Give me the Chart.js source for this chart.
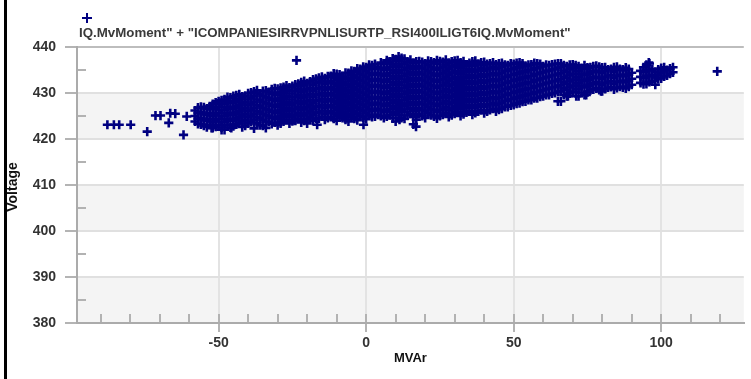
<!DOCTYPE html>
<html>
<head>
<meta charset="utf-8">
<script src="https://cdn.jsdelivr.net/npm/chart.js@4.4.1/dist/chart.umd.min.js"></script>
<style>
    html, body { margin: 0; padding: 0; background: #fff; }
    #wrap { position: relative; width: 751px; height: 379px; }
</style>
</head>
<body>
<div id="wrap"><canvas id="scatterChart" width="751" height="379"></canvas></div>
<script>
/* ================= DATA ================= */
const SERIES_LABEL = 'IQ.MvMoment" + "ICOMPANIESIRRVPNLISURTP_RSI400ILIGT6IQ.MvMoment"';
const X_TITLE = "MVAr";
const Y_TITLE = "Voltage";
const X_TICKS = [-50, 0, 50, 100];
const Y_TICKS = [380, 390, 400, 410, 420, 430, 440];

// dense part of the cloud: one MVAr position per column, voltages read in that column
const mvarColumns = [
    -58, -56, -54, -52, -50, -48, -46, -44, -42, -40, -38, -36, -34, -32, -30,
    -28, -26, -24, -22, -20, -18, -16, -14, -12, -10, -8, -6, -4, -2, 0,
    2, 4, 6, 8, 10, 12, 14, 16, 18, 20, 22, 24, 26, 28, 30,
    32, 34, 36, 38, 40, 42, 44, 46, 48, 50, 52, 54, 56, 58, 60,
    62, 64, 66, 68, 70, 72, 74, 76, 78, 80, 82, 84, 86, 88, 90,
    94, 96, 98, 100, 102, 104
];

const voltageColumns = [
    [423.8, 425.0, 426.2],
    [423.2, 424.5, 425.8, 427.0],
    [422.6, 424.0, 425.3, 426.6],
    [422.4, 423.7, 425.0, 426.4, 427.6],
    [423.1, 424.4, 425.7, 427.0, 428.2],
    [422.0, 423.6, 424.9, 426.2, 427.5, 428.6],
    [422.5, 423.9, 425.2, 426.5, 427.8, 429.0],
    [423.2, 424.5, 425.8, 427.1, 428.4, 429.5],
    [422.6, 424.0, 425.3, 426.6, 427.9, 429.2],
    [423.4, 424.7, 426.0, 427.3, 428.6, 429.9],
    [422.3, 424.1, 425.4, 426.7, 428.0, 429.3, 430.3],
    [423.0, 424.6, 425.9, 427.2, 428.5, 429.8],
    [422.4, 423.8, 425.2, 426.5, 427.8, 429.1, 430.5],
    [423.3, 424.6, 425.9, 427.2, 428.5, 429.8, 430.8],
    [423.0, 424.3, 425.6, 426.9, 428.2, 429.5, 430.9],
    [423.8, 425.1, 426.4, 427.7, 429.0, 430.3, 431.3],
    [423.4, 424.7, 426.0, 427.3, 428.6, 429.9, 431.2],
    [424.0, 425.3, 426.6, 427.9, 429.2, 430.5, 431.8],
    [423.6, 424.9, 426.2, 427.5, 428.8, 430.1, 431.4, 432.3],
    [424.3, 425.6, 426.9, 428.2, 429.5, 430.8, 432.1],
    [424.0, 425.3, 426.6, 427.9, 429.2, 430.5, 431.8, 432.9],
    [424.5, 425.8, 427.1, 428.4, 429.7, 431.0, 432.3, 433.3],
    [424.2, 425.5, 426.8, 428.1, 429.4, 430.7, 432.0, 433.2],
    [424.8, 426.1, 427.4, 428.7, 430.0, 431.3, 432.6, 433.7],
    [424.0, 425.4, 426.7, 428.0, 429.3, 430.6, 431.9, 433.2, 434.1],
    [424.6, 425.9, 427.2, 428.5, 429.8, 431.1, 432.4, 433.6],
    [423.8, 425.2, 426.5, 427.8, 429.1, 430.4, 431.7, 433.0, 434.3],
    [424.4, 425.7, 427.0, 428.3, 429.6, 430.9, 432.2, 433.5, 434.7],
    [425.0, 426.3, 427.6, 428.9, 430.2, 431.5, 432.8, 434.1, 435.2],
    [424.3, 425.6, 426.9, 428.2, 429.5, 430.8, 432.1, 433.4, 434.7, 435.6],
    [424.8, 426.1, 427.4, 428.7, 430.0, 431.3, 432.6, 433.9, 435.2, 436.0],
    [425.3, 426.6, 427.9, 429.2, 430.5, 431.8, 433.1, 434.4, 435.7],
    [424.6, 425.9, 427.2, 428.5, 429.8, 431.1, 432.4, 433.7, 435.0, 436.3],
    [425.2, 426.5, 427.8, 429.1, 430.4, 431.7, 433.0, 434.3, 435.6, 436.8],
    [423.8, 425.5, 426.8, 428.1, 429.4, 430.7, 432.0, 433.3, 434.6, 435.9, 437.3],
    [424.6, 426.0, 427.3, 428.6, 429.9, 431.2, 432.5, 433.8, 435.1, 436.4, 437.6],
    [425.1, 426.4, 427.7, 429.0, 430.3, 431.6, 432.9, 434.2, 435.5, 436.8],
    [423.2, 424.8, 426.1, 427.4, 428.7, 430.0, 431.3, 432.6, 433.9, 435.2, 436.5],
    [425.4, 426.7, 428.0, 429.3, 430.6, 431.9, 433.2, 434.5, 435.8, 436.9],
    [424.6, 426.0, 427.3, 428.6, 429.9, 431.2, 432.5, 433.8, 435.1, 436.4],
    [425.2, 426.5, 427.8, 429.1, 430.4, 431.7, 433.0, 434.3, 435.6, 436.8],
    [424.5, 425.9, 427.2, 428.5, 429.8, 431.1, 432.4, 433.7, 435.0, 436.3, 437.1],
    [425.3, 426.6, 427.9, 429.2, 430.5, 431.8, 433.1, 434.4, 435.7, 436.7],
    [424.8, 426.2, 427.5, 428.8, 430.1, 431.4, 432.7, 434.0, 435.3, 436.5],
    [425.5, 426.8, 428.1, 429.4, 430.7, 432.0, 433.3, 434.6, 435.9, 437.0],
    [425.0, 426.4, 427.7, 429.0, 430.3, 431.6, 432.9, 434.2, 435.5, 436.6],
    [425.8, 427.1, 428.4, 429.7, 431.0, 432.3, 433.6, 434.9, 436.2],
    [425.3, 426.7, 428.0, 429.3, 430.6, 431.9, 433.2, 434.5, 435.8, 436.8],
    [426.0, 427.3, 428.6, 429.9, 431.2, 432.5, 433.8, 435.1, 436.3],
    [425.6, 427.0, 428.3, 429.6, 430.9, 432.2, 433.5, 434.8, 436.0, 436.7],
    [426.3, 427.6, 428.9, 430.2, 431.5, 432.8, 434.1, 435.4, 436.4],
    [426.0, 427.3, 428.6, 429.9, 431.2, 432.5, 433.8, 435.1, 436.2],
    [426.6, 427.9, 429.2, 430.5, 431.8, 433.1, 434.4, 435.7, 436.5],
    [427.0, 428.3, 429.6, 430.9, 432.2, 433.5, 434.8, 436.0],
    [427.4, 428.7, 430.0, 431.3, 432.6, 433.9, 435.2, 436.3],
    [427.8, 429.1, 430.4, 431.7, 433.0, 434.3, 435.6, 436.6],
    [428.2, 429.5, 430.8, 432.1, 433.4, 434.7, 435.9],
    [428.5, 429.8, 431.1, 432.4, 433.7, 435.0, 436.2],
    [428.9, 430.2, 431.5, 432.8, 434.1, 435.4, 436.4],
    [429.3, 430.6, 431.9, 433.2, 434.5, 435.8],
    [429.6, 430.9, 432.2, 433.5, 434.8, 436.0],
    [430.0, 431.3, 432.6, 433.9, 435.2, 436.3],
    [428.2, 430.4, 431.7, 433.0, 434.3, 435.6, 436.4],
    [429.3, 430.7, 432.0, 433.3, 434.6, 435.8],
    [430.2, 431.5, 432.8, 434.1, 435.4, 436.2],
    [429.3, 430.8, 432.1, 433.4, 434.7, 435.8],
    [429.6, 431.2, 432.5, 433.8, 435.1, 436.0],
    [430.6, 431.9, 433.2, 434.5, 435.6],
    [431.0, 432.3, 433.6, 434.9, 435.9],
    [430.4, 431.7, 433.0, 434.3, 435.5],
    [431.2, 432.5, 433.8, 435.1],
    [430.8, 432.0, 433.3, 434.6, 435.6],
    [431.4, 432.7, 434.0, 435.2],
    [431.0, 432.3, 433.6, 434.9, 435.5],
    [431.8, 433.1, 434.4],
    [431.9, 433.2, 434.5, 435.6],
    [432.4, 433.8, 435.0, 436.4],
    [431.8, 433.4, 434.6],
    [433.2, 434.4, 435.4],
    [433.8, 435.0],
    [434.5, 435.6]
];

// second pass through the cloud, between the columns above
const mvarColumns2 = [
    -57, -55, -53, -51, -49, -47, -45, -43, -41, -39, -37, -35, -33, -31, -29,
    -27, -25, -23, -21, -19, -17, -15, -13, -11, -9, -7, -5, -3, -1, 1,
    3, 5, 7, 9, 11, 13, 15, 17, 19, 21, 23, 25, 27, 29, 31,
    33, 35, 37, 39, 41, 43, 45, 47, 49, 51, 53, 55, 57, 59, 61,
    63, 65, 67, 69, 71, 73, 75, 77, 79, 81, 83, 85, 87, 89,
    93, 95, 97, 99, 101, 103
];

const voltageColumns2 = [
    [423.3, 424.4, 425.6, 426.8],
    [422.9, 424.2, 425.5, 426.9],
    [423.1, 424.4, 425.7, 427.1],
    [422.7, 424.0, 425.3, 426.7, 427.9],
    [422.5, 423.8, 425.1, 426.4, 427.7, 428.4],
    [423.0, 424.3, 425.6, 426.9, 428.2, 429.1],
    [422.8, 424.1, 425.4, 426.7, 428.0, 429.3],
    [423.5, 424.8, 426.1, 427.4, 428.7, 429.7],
    [422.9, 424.2, 425.5, 426.8, 428.1, 429.4],
    [423.7, 425.0, 426.3, 427.6, 428.9, 430.1],
    [423.4, 424.7, 426.0, 427.3, 428.6, 429.9, 430.6],
    [422.9, 424.2, 425.5, 426.8, 428.1, 429.4, 430.4],
    [423.7, 425.0, 426.3, 427.6, 428.9, 430.2],
    [423.6, 424.9, 426.2, 427.5, 428.8, 430.1, 431.0],
    [423.4, 424.7, 426.0, 427.3, 428.6, 429.9, 431.1],
    [424.2, 425.5, 426.8, 428.1, 429.4, 430.7, 431.6],
    [423.9, 425.2, 426.5, 427.8, 429.1, 430.4, 431.5],
    [424.4, 425.7, 427.0, 428.3, 429.6, 430.9, 432.0],
    [424.0, 425.3, 426.6, 427.9, 429.2, 430.5, 431.8, 432.6],
    [424.7, 426.0, 427.3, 428.6, 429.9, 431.2, 432.5],
    [424.4, 425.7, 427.0, 428.3, 429.6, 430.9, 432.2, 433.1],
    [424.9, 426.2, 427.5, 428.8, 430.1, 431.4, 432.7, 433.5],
    [424.6, 425.9, 427.2, 428.5, 429.8, 431.1, 432.4, 433.6],
    [424.4, 425.7, 427.0, 428.3, 429.6, 430.9, 432.2, 433.5, 434.2],
    [425.0, 426.3, 427.6, 428.9, 430.2, 431.5, 432.8, 434.0],
    [424.2, 425.5, 426.8, 428.1, 429.4, 430.7, 432.0, 433.3, 434.4],
    [424.8, 426.1, 427.4, 428.7, 430.0, 431.3, 432.6, 433.9, 434.8],
    [424.1, 425.4, 426.7, 428.0, 429.3, 430.6, 431.9, 433.2, 434.5, 435.3],
    [424.7, 426.0, 427.3, 428.6, 429.9, 431.2, 432.5, 433.8, 435.1, 435.7],
    [425.2, 426.5, 427.8, 429.1, 430.4, 431.7, 433.0, 434.3, 435.6, 436.1],
    [424.9, 426.2, 427.5, 428.8, 430.1, 431.4, 432.7, 434.0, 435.3, 436.3],
    [425.0, 426.3, 427.6, 428.9, 430.2, 431.5, 432.8, 434.1, 435.4, 436.6],
    [424.9, 426.2, 427.5, 428.8, 430.1, 431.4, 432.7, 434.0, 435.3, 436.6, 437.1],
    [424.5, 425.9, 427.2, 428.5, 429.8, 431.1, 432.4, 433.7, 435.0, 436.3, 437.5],
    [425.2, 426.6, 427.9, 429.2, 430.5, 431.8, 433.1, 434.4, 435.7, 437.0, 437.9],
    [424.4, 425.8, 427.1, 428.4, 429.7, 431.0, 432.3, 433.6, 434.9, 436.2, 437.4],
    [425.5, 426.8, 428.1, 429.4, 430.7, 432.0, 433.3, 434.6, 435.9, 437.2],
    [424.2, 425.1, 426.4, 427.7, 429.0, 430.3, 431.6, 432.9, 434.2, 435.5, 436.8],
    [425.0, 426.3, 427.6, 428.9, 430.2, 431.5, 432.8, 434.1, 435.4, 436.7],
    [425.6, 426.9, 428.2, 429.5, 430.8, 432.1, 433.4, 434.7, 436.0, 437.0],
    [424.9, 426.2, 427.5, 428.8, 430.1, 431.4, 432.7, 434.0, 435.3, 436.6],
    [425.0, 426.3, 427.6, 428.9, 430.2, 431.5, 432.8, 434.1, 435.4, 436.9],
    [425.7, 427.0, 428.3, 429.6, 430.9, 432.2, 433.5, 434.8, 436.1, 437.2],
    [425.2, 426.5, 427.8, 429.1, 430.4, 431.7, 433.0, 434.3, 435.6, 436.8],
    [425.9, 427.1, 428.4, 429.7, 431.0, 432.3, 433.6, 434.9, 436.2, 437.1],
    [425.4, 426.8, 428.1, 429.4, 430.7, 432.0, 433.3, 434.6, 435.9, 436.9],
    [426.1, 427.4, 428.7, 430.0, 431.3, 432.6, 433.9, 435.2, 436.5],
    [425.7, 427.0, 428.3, 429.6, 430.9, 432.2, 433.5, 434.8, 436.1, 437.0],
    [426.3, 427.6, 428.9, 430.2, 431.5, 432.8, 434.1, 435.4, 436.6],
    [426.0, 427.3, 428.6, 429.9, 431.2, 432.5, 433.8, 435.1, 436.3],
    [426.6, 427.9, 429.2, 430.5, 431.8, 433.1, 434.4, 435.7, 436.6],
    [426.4, 427.6, 428.9, 430.2, 431.5, 432.8, 434.1, 435.4, 436.4],
    [427.0, 428.3, 429.6, 430.9, 432.2, 433.5, 434.8, 436.1],
    [427.3, 428.7, 430.0, 431.3, 432.6, 433.9, 435.2, 436.4],
    [427.7, 429.0, 430.3, 431.6, 432.9, 434.2, 435.5, 436.5],
    [428.1, 429.4, 430.7, 432.0, 433.3, 434.6, 435.9, 436.4],
    [428.5, 429.8, 431.1, 432.4, 433.7, 435.0, 436.1],
    [428.9, 430.2, 431.5, 432.8, 434.1, 435.4, 436.5],
    [429.2, 430.5, 431.8, 433.1, 434.4, 435.7, 436.3],
    [429.6, 430.9, 432.2, 433.5, 434.8, 436.1],
    [429.9, 431.2, 432.5, 433.8, 435.1, 436.2],
    [430.3, 431.6, 432.9, 434.2, 435.5, 436.4],
    [429.6, 431.0, 432.3, 433.6, 434.9, 436.0],
    [429.9, 431.2, 432.5, 433.8, 435.1, 436.1],
    [430.3, 431.6, 432.9, 434.2, 435.5, 436.0],
    [430.1, 431.5, 432.8, 434.1, 435.4],
    [430.2, 431.6, 432.9, 434.2, 435.5],
    [430.8, 432.1, 433.4, 434.7, 435.8],
    [430.7, 432.0, 433.3, 434.6, 435.7],
    [430.9, 432.2, 433.5, 434.8, 435.6],
    [431.3, 432.6, 433.9, 435.2],
    [431.1, 432.4, 433.7, 435.0, 435.7],
    [431.2, 432.5, 433.8, 435.1],
    [431.4, 432.7, 434.0, 435.2],
    [432.2, 433.5, 434.8],
    [432.0, 433.6, 434.9, 436.1],
    [432.6, 433.9, 435.2],
    [433.0, 434.0, 435.1],
    [433.6, 434.7, 435.6],
    [434.2, 435.3]
];

// loose points around the cloud
const outlierMvar = [
    -87.7, -85.5, -83.7, -79.8, -74.2, -71.4, -69.7, -66.9, -66.4, -64.7,
    -61.9, -60.8, -52.4, -49.0, -45.7, -23.6, -24.0, -20.0, -16.6, -7.7,
    -0.9, 11.3, 16.9, 65.0, 68.4, 71.2, 74.6, 79.6, 95.8, 119.0
];
const outlierVoltage = [
    423.1, 423.1, 423.1, 423.1, 421.6, 425.1, 425.1, 423.5, 425.6, 425.5,
    420.9, 424.9, 422.4, 422.0, 422.4, 437.1, 424.2, 423.4, 423.1, 424.9,
    423.1, 424.2, 422.7, 428.2, 429.3, 429.3, 429.6, 430.4, 436.6, 434.7
];

/* ================= STYLE ================= */
const MARK_COLOR = "#000080";
const FONT_FAMILY = "Arial, 'Liberation Sans', sans-serif";
const TICK_FONT = { family: FONT_FAMILY, size: 14, weight: "bold" };

/* ================= POINTS ================= */
const points = [];
mvarColumns.forEach((x, i) => {
    voltageColumns[i].forEach(y => points.push({ x: x, y: y }));
});
mvarColumns2.forEach((x, i) => {
    voltageColumns2[i].forEach(y => points.push({ x: x, y: y }));
});
outlierMvar.forEach((x, i) => points.push({ x: x, y: outlierVoltage[i] }));

/* ================= PLUGINS ================= */
// interlaced strips behind the grid
const stripsPlugin = {
    id: "strips",
    beforeDraw(chart) {
        const { ctx, chartArea, scales } = chart;
        ctx.save();
        ctx.fillStyle = "#f4f4f4";
        [[380, 390], [400, 410], [420, 430]].forEach(([a, b]) => {
            const top = scales.y.getPixelForValue(b);
            const bottom = scales.y.getPixelForValue(a);
            ctx.fillRect(chartArea.left, top, chartArea.right - chartArea.left, bottom - top);
        });
        ctx.restore();
    }
};

// small inner ticks between the labelled ones
const minorTicksPlugin = {
    id: "minorTicks",
    beforeDatasetsDraw(chart) {
        const { ctx, chartArea, scales } = chart;
        ctx.save();
        ctx.strokeStyle = "#b2b2b2";
        ctx.lineWidth = 2;
        ctx.beginPath();
        for (let v = -90; v <= 120; v += 10) {
            const px = Math.round(scales.x.getPixelForValue(v));
            ctx.moveTo(px, chartArea.bottom - 1);
            ctx.lineTo(px, chartArea.bottom - 9);
        }
        for (let v = 385; v < 440; v += 10) {
            const py = Math.round(scales.y.getPixelForValue(v));
            ctx.moveTo(chartArea.left + 1, py);
            ctx.lineTo(chartArea.left + 9, py);
        }
        ctx.stroke();
        ctx.restore();
    }
};

// legend on top, rotated y title and the black frame edge
const frameLegendPlugin = {
    id: "frameLegend",
    afterDraw(chart) {
        const ctx = chart.ctx;
        const ds = chart.data.datasets[0];
        ctx.save();

        // legend marker
        ctx.strokeStyle = MARK_COLOR;
        ctx.lineWidth = 2;
        ctx.beginPath();
        ctx.moveTo(82, 18); ctx.lineTo(92, 18);
        ctx.moveTo(87, 13); ctx.lineTo(87, 23);
        ctx.stroke();

        // legend text
        ctx.fillStyle = "#3a3a3a";
        ctx.font = "bold 13.3px " + FONT_FAMILY;
        ctx.textAlign = "left";
        ctx.textBaseline = "middle";
        ctx.fillText(ds.label, 79, 33);

        // y title, partly hidden by the frame
        ctx.save();
        ctx.beginPath();
        ctx.rect(7, 0, 60, 379);
        ctx.clip();
        ctx.translate(13, 187);
        ctx.rotate(-Math.PI / 2);
        ctx.fillStyle = "#111";
        ctx.font = "bold 14px " + FONT_FAMILY;
        ctx.textAlign = "center";
        ctx.textBaseline = "middle";
        ctx.fillText(Y_TITLE, 0, 0);
        ctx.restore();

        // frame edge
        ctx.fillStyle = "#000";
        ctx.fillRect(4, 0, 3, 379);
        ctx.restore();
    }
};

/* ================= CHART ================= */
function renderScatter() {
    const ctx = document.getElementById("scatterChart");

    new Chart(ctx, {
        type: "scatter",
        data: {
            datasets: [{
                label: SERIES_LABEL,
                data: points,
                pointStyle: "cross",
                pointRadius: 4.6,
                borderWidth: 2.6,
                borderColor: MARK_COLOR,
                backgroundColor: MARK_COLOR
            }]
        },
        options: {
            responsive: false,
            animation: false,
            events: [],
            layout: { padding: { top: 47, right: 0, bottom: 0, left: 0 } },
            plugins: {
                legend: { display: false },
                tooltip: { enabled: false }
            },
            scales: {
                x: {
                    type: "linear",
                    min: -98,
                    max: 128,
                    afterBuildTicks: s => { s.ticks = X_TICKS.map(v => ({ value: v })); },
                    afterFit: s => { s.height = 56; },
                    ticks: {
                        autoSkip: false,
                        maxRotation: 0,
                        padding: 3,
                        color: "#333",
                        font: TICK_FONT
                    },
                    grid: {
                        color: "#e3e3e3",
                        lineWidth: 2,
                        tickLength: 9,
                        tickColor: "#b4b4b4"
                    },
                    border: { color: "#ababab", width: 2 },
                    title: {
                        display: true,
                        text: X_TITLE,
                        color: "#111",
                        font: { family: FONT_FAMILY, size: 13, weight: "bold" },
                        padding: { top: 0, bottom: 13 }
                    }
                },
                y: {
                    min: 380,
                    max: 440,
                    afterBuildTicks: s => { s.ticks = Y_TICKS.map(v => ({ value: v })); },
                    afterFit: s => { s.width = 77; },
                    ticks: {
                        padding: 9,
                        color: "#333",
                        font: TICK_FONT
                    },
                    grid: {
                        color: c => (c.tick && c.tick.value === 440) ? "#bdbdbd" : "#e0e0e0",
                        lineWidth: 2,
                        tickLength: 12,
                        tickColor: "#b4b4b4"
                    },
                    border: { color: "#ababab", width: 2 }
                }
            }
        },
        plugins: [stripsPlugin, minorTicksPlugin, frameLegendPlugin]
    });
}

renderScatter();
</script>
</body>
</html>
